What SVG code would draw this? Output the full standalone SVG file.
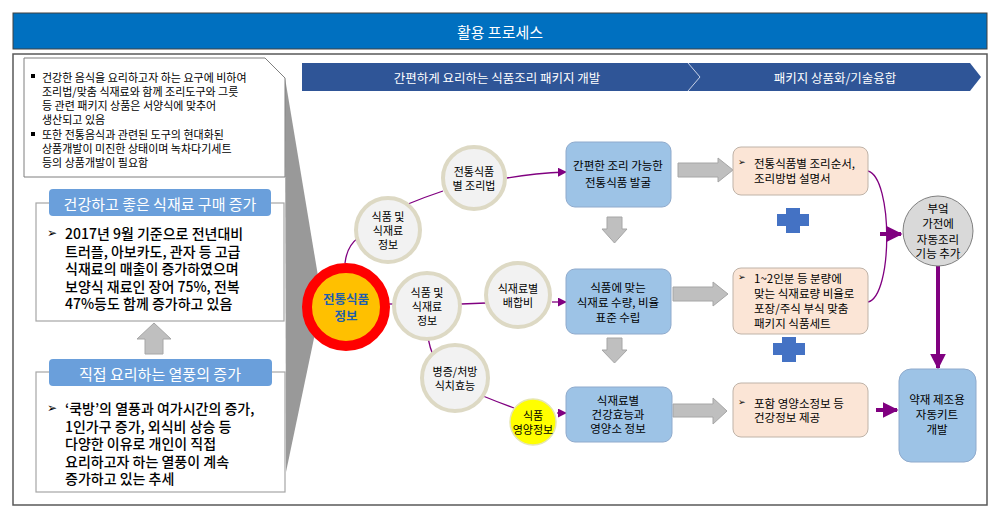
<svg xmlns="http://www.w3.org/2000/svg" width="1000" height="520" viewBox="0 0 1000 520">
<defs>
<style>
text{font-family:"Noto Sans CJK KR","Liberation Sans",sans-serif;fill:#000;dominant-baseline:central}
.c{text-anchor:middle}
.t11{font-size:11px}
.t12{font-size:11.5px}
.tn{font-size:11px}
.t14{font-size:14px;font-weight:500}
.w{fill:#fff}
.node{fill:#F2F2F2;stroke:#DDD9C4;stroke-width:4}
.blue{fill:#9DC3E6;stroke:#8FAACC;stroke-width:1}
.peach{fill:#FBE5D6;stroke:#BFB3A8;stroke-width:1}
.garrow{fill:#BFBFBF;stroke:#A6A6A6;stroke-width:1}
.plus{fill:#4472C4}
.pl{fill:none;stroke:#800080;stroke-width:1.3}
.pt{fill:none;stroke:#800080;stroke-width:4}
.pill{fill:#6A9FDB}
.box{fill:#fff;stroke:#A6A6A6;stroke-width:1.2}
</style>
<marker id="ah" viewBox="0 0 10 10" refX="9" refY="5" markerWidth="9" markerHeight="9" markerUnits="userSpaceOnUse" orient="auto"><path d="M0,0 L10,5 L0,10 z" fill="#800080"/></marker>
<marker id="ahb" viewBox="0 0 10 10" refX="9" refY="5" markerWidth="4" markerHeight="4" orient="auto"><path d="M0,0 L10,5 L0,10 z" fill="#800080"/></marker>
</defs>
<rect width="1000" height="520" fill="#fff"/>
<g id="title">
<rect x="13" y="13" width="974" height="36" fill="#0070C0" stroke="#404040" stroke-width="1"/>
<text class="c w" x="500" y="31" style="font-size:15px">활용 프로세스</text>
</g>
<rect x="13" y="54" width="974" height="451" fill="none" stroke="#595959" stroke-width="1.5"/>
<polygon points="285,78 322,300 286,472" fill="#999999"/>
<g id="callout">
<polygon points="24,58 265,58 285,78 285,177 24,177" fill="#fff" stroke="#7F7F7F" stroke-width="1"/>
<rect x="31" y="74" width="4" height="4" fill="#000"/>
<rect x="31" y="132" width="4" height="4" fill="#000"/>
<text class="t11" x="42" y="77">건강한 음식을 요리하고자 하는 요구에 비하여</text>
<text class="t11" x="42" y="91">조리법/맞춤 식재료와 함께 조리도구와 그릇</text>
<text class="t11" x="42" y="105">등 관련 패키지 상품은 서양식에 맞추어</text>
<text class="t11" x="42" y="119">생산되고 있음</text>
<text class="t11" x="42" y="134">또한 전통음식과 관련된 도구의 현대화된</text>
<text class="t11" x="42" y="148">상품개발이 미진한 상태이며 녹차다기세트</text>
<text class="t11" x="42" y="162">등의 상품개발이 필요함</text>
</g>
<g id="box-health">
<rect class="box" x="36" y="203" width="248" height="118"/>
<rect class="pill" x="49" y="189" width="222" height="27" rx="4"/>
<text class="c w" x="160" y="203" style="font-size:15px">건강하고 좋은 식재료 구매 증가</text>
<text x="47" y="233" style="font-size:12px;font-family:'DejaVu Sans',sans-serif">➢</text>
<text class="t14" x="65" y="233">2017년 9월 기준으로 전년대비</text>
<text class="t14" x="65" y="251">트러플, 아보카도, 관자 등 고급</text>
<text class="t14" x="65" y="268">식재료의 매출이 증가하였으며</text>
<text class="t14" x="65" y="286">보양식 재료인 장어 75%, 전복</text>
<text class="t14" x="65" y="303">47%등도 함께 증가하고 있음</text>
</g>
<g id="uparrow">
<polygon class="garrow" points="154,323 171,339 163,339 163,354 145,354 145,339 137,339"/>
</g>
<g id="box-cook">
<rect class="box" x="36" y="372" width="249" height="120"/>
<rect class="pill" x="49" y="359" width="223" height="27" rx="4"/>
<text class="c w" x="160" y="373" style="font-size:15px">직접 요리하는 열풍의 증가</text>
<text x="47" y="408" style="font-size:12px;font-family:'DejaVu Sans',sans-serif">➢</text>
<text class="t14" x="65" y="408">‘쿡방’의 열풍과 여가시간의 증가,</text>
<text class="t14" x="65" y="426">1인가구 증가, 외식비 상승 등</text>
<text class="t14" x="65" y="443">다양한 이유로 개인이 직접</text>
<text class="t14" x="65" y="461">요리하고자 하는 열풍이 계속</text>
<text class="t14" x="65" y="478">증가하고 있는 추세</text>
</g>
<g id="header">
<polygon points="302,63 970,63 981,77 970,91 302,91" fill="#2F5597"/>
<polyline points="688,63 700,77 688,91" fill="none" stroke="#C9D3E8" stroke-width="1"/>
<text class="c w" x="497" y="77" style="font-size:12.5px">간편하게 요리하는 식품조리 패키지 개발</text>
<text class="c w" x="835" y="77" style="font-size:12.5px">패키지 상품화/기술융합</text>
</g>
<g id="connectors">
<path class="pl" d="M345,263 Q347,246 358,238"/>
<path class="pl" d="M408,204 Q425,197 443,191"/>
<path class="pl" d="M507,178 Q535,173 566,172" marker-end="url(#ah)"/>
<path class="pl" d="M389,304 L394,304"/>
<path class="pl" d="M461,304 L486,303"/>
<path class="pl" d="M552,302 L566,302" marker-end="url(#ah)"/>
<path class="pl" d="M428,338 Q430,348 433,355"/>
<path class="pl" d="M483,396 Q500,403 514,408"/>
<path class="pl" d="M557,413 L566,413" marker-end="url(#ah)"/>
<path class="pl" d="M868,171 C893,178 893,296 868,302"/>
<path class="pt" d="M880,234 L901,234" marker-end="url(#ahb)"/>
<path class="pt" d="M938,266 L938,368" marker-end="url(#ahb)"/>
<path class="pt" d="M876,410 L897,410" marker-end="url(#ahb)"/>
<polygon class="garrow" points="678,163 718,163 718,158 733,170 718,182 718,177 678,177"/>
<polygon class="garrow" points="673,287 713,287 713,282 728,294 713,306 713,301 673,301"/>
<polygon class="garrow" points="673,404 713,404 713,398 727,411 713,424 713,417 673,417"/>
<polygon class="garrow" points="607,217 622,217 622,229 627,229 614.5,243 602,229 607,229"/>
<polygon class="garrow" points="607,338 622,338 622,350 627,350 614.5,363 602,350 607,350"/>
</g>
<g id="n-main">
<circle cx="346" cy="307" r="39" fill="#FFC000" stroke="#FF0000" stroke-width="10"/>
<text class="c" x="346" y="298" style="font-size:12.5px;font-weight:bold;fill:#1F5FAD">전통식품</text>
<text class="c" x="346" y="315" style="font-size:12.5px;font-weight:bold;fill:#1F5FAD">정보</text>
</g>
<g id="n-info1">
<circle class="node" cx="388" cy="230" r="32"/>
<text class="c tn" x="388" y="216">식품 및</text>
<text class="c tn" x="388" y="230">식재료</text>
<text class="c tn" x="388" y="244">정보</text>
</g>
<g id="n-recipe">
<circle class="node" cx="474" cy="178" r="31"/>
<text class="c tn" x="474" y="171">전통식품</text>
<text class="c tn" x="474" y="185">별 조리법</text>
</g>
<g id="n-info2">
<circle class="node" cx="427" cy="306" r="33"/>
<text class="c tn" x="427" y="292">식품 및</text>
<text class="c tn" x="427" y="306">식재료</text>
<text class="c tn" x="427" y="320">정보</text>
</g>
<g id="n-ratio">
<circle class="node" cx="518" cy="295" r="32"/>
<text class="c tn" x="518" y="288">식재료별</text>
<text class="c tn" x="518" y="302">배합비</text>
</g>
<g id="n-effect">
<circle class="node" cx="455" cy="378" r="33"/>
<text class="c tn" x="455" y="371">병증/처방</text>
<text class="c tn" x="455" y="385">식치효능</text>
</g>
<g id="n-nutri">
<circle cx="533" cy="422" r="23" fill="#FFFF00" stroke="#E6E6B0" stroke-width="1.5"/>
<text class="c tn" x="533" y="415">식품</text>
<text class="c tn" x="533" y="429">영양정보</text>
</g>
<g id="b1">
<rect class="blue" x="566" y="142" width="105" height="65" rx="9"/>
<text class="c t12" x="618" y="165">간편한 조리 가능한</text>
<text class="c t12" x="618" y="182">전통식품 발굴</text>
</g>
<g id="b2">
<rect class="blue" x="566" y="269" width="105" height="65" rx="9"/>
<text class="c t12" x="618" y="287">식품에 맞는</text>
<text class="c t12" x="618" y="302">식재료 수량, 비율</text>
<text class="c t12" x="618" y="317">표준 수립</text>
</g>
<g id="b3">
<rect class="blue" x="566" y="387" width="106" height="55" rx="9"/>
<text class="c t12" x="618" y="400">식재료별</text>
<text class="c t12" x="618" y="414">건강효능과</text>
<text class="c t12" x="618" y="428">영양소 정보</text>
</g>
<g id="p1">
<rect class="peach" x="733" y="147" width="135" height="48" rx="8"/>
<text x="738" y="162" style="font-size:9px;font-family:'DejaVu Sans',sans-serif">➢</text>
<text class="t12" x="754" y="163">전통식품별 조리순서,</text>
<text class="t12" x="754" y="178">조리방법 설명서</text>
</g>
<g id="p2">
<rect class="peach" x="733" y="268" width="135" height="66" rx="8"/>
<text x="738" y="277" style="font-size:9px;font-family:'DejaVu Sans',sans-serif">➢</text>
<text class="t12" x="754" y="278">1~2인분 등 분량에</text>
<text class="t12" x="754" y="293">맞는 식재료량 비율로</text>
<text class="t12" x="754" y="308">포장/주식 부식 맞춤</text>
<text class="t12" x="754" y="323">패키지 식품세트</text>
</g>
<g id="p3">
<rect class="peach" x="733" y="383" width="135" height="54" rx="8"/>
<text x="738" y="402" style="font-size:9px;font-family:'DejaVu Sans',sans-serif">➢</text>
<text class="t12" x="754" y="403">포함 영양소정보 등</text>
<text class="t12" x="754" y="417">건강정보 제공</text>
</g>
<g id="plus1">
<path class="plus" d="M786,208 h14 v6 h9 v12 h-9 v7 h-14 v-7 h-9 v-12 h9 z"/>
</g>
<g id="plus2">
<path class="plus" d="M782,337 h14 v6 h9 v12 h-9 v7 h-14 v-7 h-9 v-12 h9 z"/>
</g>
<g id="n-appliance">
<circle cx="938" cy="231" r="35" fill="#D9D9D9" stroke="#808080" stroke-width="1"/>
<text class="c t12" x="938" y="208">부엌</text>
<text class="c t12" x="938" y="223">가전에</text>
<text class="c t12" x="938" y="239">자동조리</text>
<text class="c t12" x="938" y="253">기능 추가</text>
</g>
<g id="b-kit">
<rect class="blue" x="899" y="369" width="77" height="93" rx="12"/>
<text class="c t12" x="937" y="399">약재 제조용</text>
<text class="c t12" x="937" y="414">자동키트</text>
<text class="c t12" x="937" y="429">개발</text>
</g>
</svg>
